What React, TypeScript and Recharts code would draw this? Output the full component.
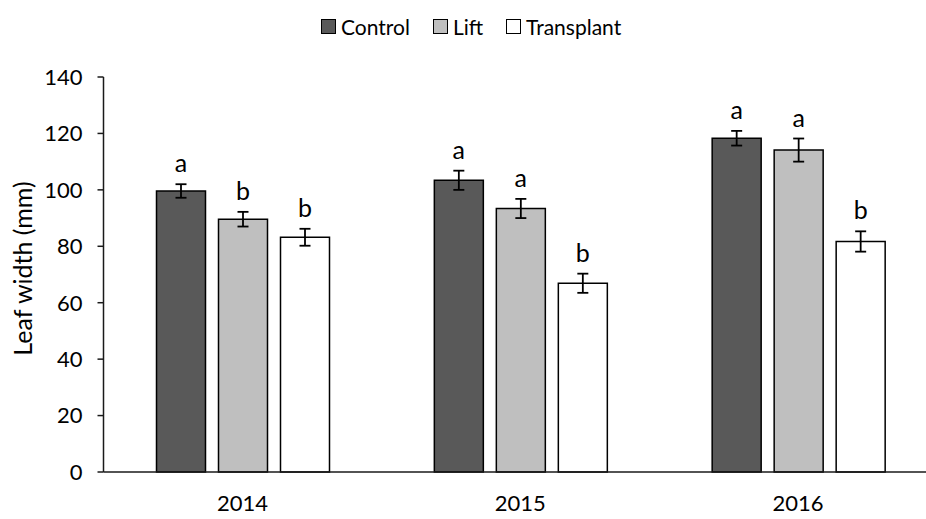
import React from 'react';
import { BarChart, Bar, XAxis, YAxis, ErrorBar, LabelList, Legend, Label } from 'recharts';

const categories = ['2014', '2015', '2016'];
const controlValues = [99.6, 103.4, 118.3];
const liftValues = [89.6, 93.4, 114.1];
const transplantValues = [83.2, 66.9, 81.7];
const controlErrors = [2.4, 3.4, 2.6];
const liftErrors = [2.6, 3.4, 4.1];
const transplantErrors = [3.0, 3.4, 3.6];
const controlLetters = ['a', 'a', 'a'];
const liftLetters = ['b', 'a', 'a'];
const transplantLetters = ['b', 'b', 'b'];
const yTicks = [0, 20, 40, 60, 80, 100, 120, 140];

const seriesNames = ['Control', 'Lift', 'Transplant'];
const seriesColors = ['#595959', '#bfbfbf', '#ffffff'];

const data = categories.map((c, i) => ({
  year: c,
  control: controlValues[i],
  lift: liftValues[i],
  transplant: transplantValues[i],
  controlErr: controlErrors[i],
  liftErr: liftErrors[i],
  transplantErr: transplantErrors[i],
}));

const FONT = 'Lato, "Open Sans", sans-serif';

const makeLabel = (letters: string[], values: number[], errors: number[]) => (props: any) => {
  const { x, y, width, height, index } = props;
  const ppu = Number(height) / values[index];
  const ty = Number(y) - errors[index] * ppu - 12;
  return (
    <text
      x={Number(x) + Number(width) / 2}
      y={ty}
      textAnchor="middle"
      fontSize={25}
      fontFamily={FONT}
      fill="#000"
    >
      {letters[index]}
    </text>
  );
};

const renderLegend = () => (
  <div
    style={{
      display: 'flex',
      alignItems: 'center',
      paddingLeft: 321,
      fontFamily: FONT,
      fontSize: 21,
      color: '#000',
      height: 30,
    }}
  >
    {seriesNames.map((n, i) => (
      <div key={n} style={{ display: 'flex', alignItems: 'center', marginRight: 23 }}>
        <span
          style={{
            display: 'inline-block',
            width: 13,
            height: 13,
            border: '1.5px solid #000',
            background: seriesColors[i],
            marginRight: 5,
          }}
        />
        <span>{n}</span>
      </div>
    ))}
  </div>
);

export default function App() {
  return (
    <div style={{ position: 'absolute', left: 0, top: 0, width: 926, height: 519, overflow: 'hidden', background: '#fff' }}>
      <BarChart
        width={950}
        height={519}
        data={data}
        margin={{ top: 77, right: 13, bottom: 0, left: 0 }}
        barGap={13}
        barCategoryGap={53}
      >
        <Legend verticalAlign="middle" wrapperStyle={{ top: 11, left: 0, width: 926, height: 30 }} content={renderLegend} />
        <XAxis
          dataKey="year"
          height={47}
          tickLine={false}
          tickSize={0}
          tickMargin={23}
          axisLine={{ stroke: '#1a1a1a', strokeWidth: 1.5 }}
          tick={{ fontSize: 22, fontFamily: FONT, fill: '#000' }}
        />
        <YAxis
          width={103.5}
          domain={[0, 140]}
          ticks={yTicks}
          interval={0}
          tickSize={6}
          tickMargin={15}
          axisLine={{ stroke: '#1a1a1a', strokeWidth: 1.5 }}
          tickLine={{ stroke: '#1a1a1a', strokeWidth: 1.5 }}
          tick={{ fontSize: 22, fontFamily: FONT, fill: '#000' }}
        >
          <Label
            value="Leaf width (mm)"
            angle={-90}
            position="center"
            dx={-29}
            dy={-6}
            style={{ fontSize: 25, fontFamily: FONT, fill: '#000' }}
          />
        </YAxis>
        <Bar dataKey="control" name="Control" fill={seriesColors[0]} stroke="#000" strokeWidth={1.5} isAnimationActive={false}>
          <ErrorBar dataKey="controlErr" width={5.5} stroke="#000" strokeWidth={1.8} direction="y" />
          <LabelList dataKey="control" content={makeLabel(controlLetters, controlValues, controlErrors)} />
        </Bar>
        <Bar dataKey="lift" name="Lift" fill={seriesColors[1]} stroke="#000" strokeWidth={1.5} isAnimationActive={false}>
          <ErrorBar dataKey="liftErr" width={5.5} stroke="#000" strokeWidth={1.8} direction="y" />
          <LabelList dataKey="lift" content={makeLabel(liftLetters, liftValues, liftErrors)} />
        </Bar>
        <Bar dataKey="transplant" name="Transplant" fill={seriesColors[2]} stroke="#000" strokeWidth={1.5} isAnimationActive={false}>
          <ErrorBar dataKey="transplantErr" width={5.5} stroke="#000" strokeWidth={1.8} direction="y" />
          <LabelList dataKey="transplant" content={makeLabel(transplantLetters, transplantValues, transplantErrors)} />
        </Bar>
      </BarChart>
    </div>
  );
}
